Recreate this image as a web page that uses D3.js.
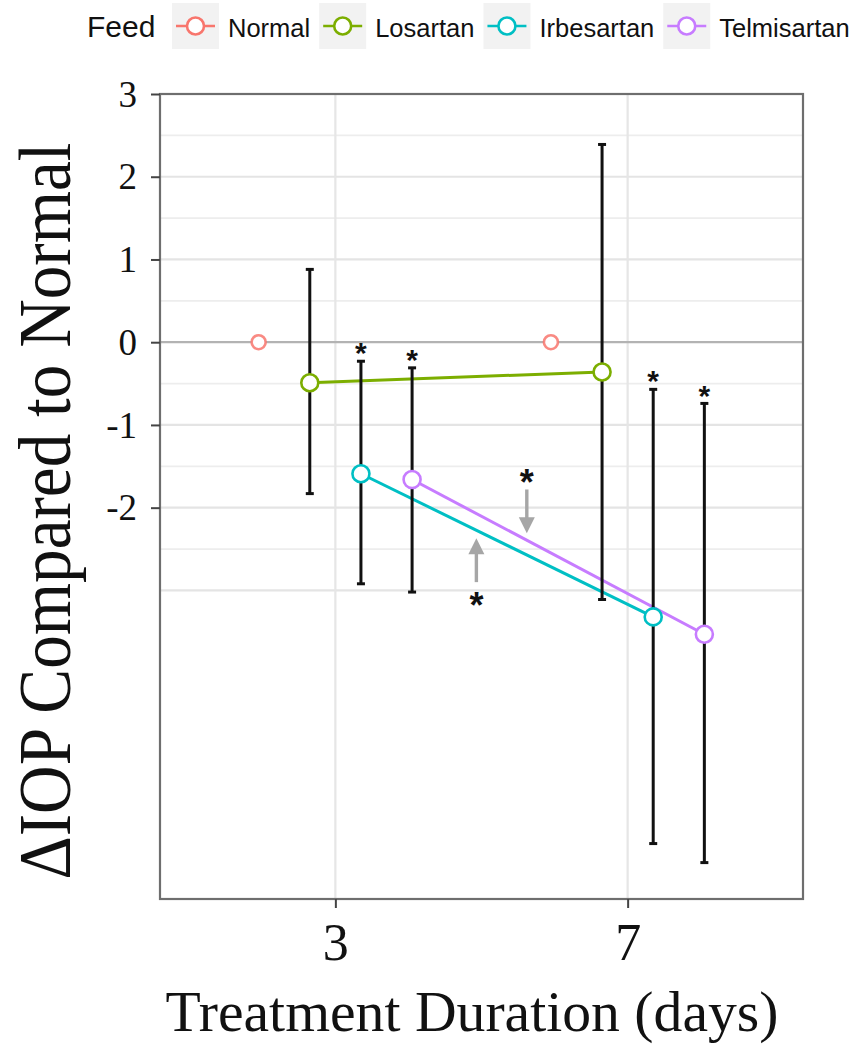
<!DOCTYPE html>
<html>
<head>
<meta charset="utf-8">
<script src="https://cdn.jsdelivr.net/npm/d3@7"></script>
<style>
  html, body { margin: 0; padding: 0; background: #ffffff; }
  svg { display: block; }
</style>
</head>
<body>
<svg id="chart" width="858" height="1045"></svg>
<script>
// ---------------- data ----------------
const days = [3, 7];
const feeds = ["Normal", "Losartan", "Irbesartan", "Telmisartan"];
const feedColors = ["#F8766D", "#7CAE00", "#00BFC4", "#C77CFF"];

const normalMean = [0, 0];
const losartanMean = [-0.49, -0.36];
const irbesartanMean = [-1.59, -3.32];
const telmisartanMean = [-1.66, -3.53];

const losartanLower = [-1.83, -3.11];
const losartanUpper = [0.88, 2.39];
const irbesartanLower = [-2.92, -6.06];
const irbesartanUpper = [-0.23, -0.57];
const telmisartanLower = [-3.02, -6.29];
const telmisartanUpper = [-0.31, -0.74];

const losartanSig = [false, false];
const irbesartanSig = [true, true];
const telmisartanSig = [true, true];

const yTicks = [3, 2, 1, 0, -1, -2];
const yTickLabels = ["3", "2", "1", "0", "-1", "-2"];
const yGrid = [3, 2.5, 2, 1.5, 1, 0.5, -0.5, -1, -1.5, -2, -2.5, -3];
const xTicks = [3, 7];
const xTickLabels = ["3", "7"];

// annotation arrows (day, tail value, tip value, asterisk value)
const arrowDay = [4.93, 5.62];
const arrowTail = [-2.90, -1.78];
const arrowTip = [-2.37, -2.31];
const arrowStar = [-3.09, -1.60];

const xTitle = "Treatment Duration (days)";
const yTitle = "\u0394IOP Compared to Normal";
const legendTitle = "Feed";

// ---------------- build series ----------------
const series = [
  { name: feeds[0], color: feedColors[0], mean: normalMean, lower: null, upper: null, sig: null, line: false },
  { name: feeds[1], color: feedColors[1], mean: losartanMean, lower: losartanLower, upper: losartanUpper, sig: losartanSig, line: true },
  { name: feeds[2], color: feedColors[2], mean: irbesartanMean, lower: irbesartanLower, upper: irbesartanUpper, sig: irbesartanSig, line: true },
  { name: feeds[3], color: feedColors[3], mean: telmisartanMean, lower: telmisartanLower, upper: telmisartanUpper, sig: telmisartanSig, line: true }
];
series.forEach((s, i) => {
  s.offset = (i - 1.5) * 0.7; // position dodge
  s.points = days.map((d, j) => ({
    day: d, x: d + s.offset, mean: s.mean[j],
    lower: s.lower ? s.lower[j] : null,
    upper: s.upper ? s.upper[j] : null,
    sig: s.sig ? s.sig[j] : false
  }));
});

// ---------------- layout ----------------
const svg = d3.select("#chart");
const panel = { left: 160, right: 803, top: 94, bottom: 899 };

const x = d3.scaleLinear().domain([0.6, 9.4]).range([panel.left, panel.right]);
const y = d3.scaleLinear().domain([3, -6.73]).range([panel.top, panel.bottom]);

const serif = "'Liberation Serif', 'Times New Roman', Times, serif";
const sans = "'Liberation Sans', Arial, Helvetica, sans-serif";

// panel background
svg.append("rect")
  .attr("x", panel.left).attr("y", panel.top)
  .attr("width", panel.right - panel.left).attr("height", panel.bottom - panel.top)
  .attr("fill", "#ffffff");

// horizontal gridlines
svg.append("g").selectAll("line").data(yGrid).join("line")
  .attr("x1", panel.left).attr("x2", panel.right)
  .attr("y1", d => y(d)).attr("y2", d => y(d))
  .attr("stroke", d => Number.isInteger(d) ? "#e4e4e4" : "#ededed")
  .attr("stroke-width", d => Number.isInteger(d) ? 2.2 : 1.8);

// vertical gridlines
svg.append("g").selectAll("line").data(xTicks).join("line")
  .attr("x1", d => x(d)).attr("x2", d => x(d))
  .attr("y1", panel.top).attr("y2", panel.bottom)
  .attr("stroke", "#e6e6e6").attr("stroke-width", 2.2);

// zero reference line
svg.append("line")
  .attr("x1", panel.left).attr("x2", panel.right)
  .attr("y1", y(0)).attr("y2", y(0))
  .attr("stroke", "#b3b3b3").attr("stroke-width", 2.2);

// series lines
const lineGen = d3.line().x(d => x(d.x)).y(d => y(d.mean));
svg.append("g").selectAll("path").data(series.filter(s => s.line)).join("path")
  .attr("d", s => lineGen(s.points))
  .attr("fill", "none")
  .attr("stroke", s => s.color)
  .attr("stroke-width", 3);

// error bars
const errData = series.filter(s => s.lower).flatMap(s => s.points);
const eg = svg.append("g");
eg.selectAll("line.bar").data(errData).join("line").attr("class", "bar")
  .attr("x1", d => x(d.x)).attr("x2", d => x(d.x))
  .attr("y1", d => y(d.upper)).attr("y2", d => y(d.lower))
  .attr("stroke", "#111").attr("stroke-width", 3);
eg.selectAll("line.capT").data(errData).join("line").attr("class", "capT")
  .attr("x1", d => x(d.x) - 4).attr("x2", d => x(d.x) + 4)
  .attr("y1", d => y(d.upper)).attr("y2", d => y(d.upper))
  .attr("stroke", "#111").attr("stroke-width", 3);
eg.selectAll("line.capB").data(errData).join("line").attr("class", "capB")
  .attr("x1", d => x(d.x) - 4).attr("x2", d => x(d.x) + 4)
  .attr("y1", d => y(d.lower)).attr("y2", d => y(d.lower))
  .attr("stroke", "#111").attr("stroke-width", 3);

// points
const pg = svg.append("g");
series.forEach((s, i) => {
  pg.selectAll(null).data(s.points).join("circle")
    .attr("cx", d => x(d.x)).attr("cy", d => y(d.mean))
    .attr("r", i === 0 ? 7 : 8.5)
    .attr("fill", "#ffffff")
    .attr("stroke", s.color)
    .attr("stroke-opacity", i === 0 ? 0.85 : 1)
    .attr("stroke-width", 2.6);
});

// significance asterisks above error bars
const sigData = errData.filter(d => d.sig);
svg.append("g").selectAll("text").data(sigData).join("text")
  .attr("x", d => x(d.x))
  .attr("y", d => y(d.upper) - 15 + 0.57 * 30)
  .attr("text-anchor", "middle")
  .attr("font-family", sans).attr("font-weight", "bold")
  .attr("font-size", 30).attr("fill", "#111")
  .text("*");

// annotation arrows
const arrows = arrowDay.map((d, i) => ({ day: d, tail: arrowTail[i], tip: arrowTip[i], star: arrowStar[i] }));
const ag = svg.append("g");
arrows.forEach(a => {
  const ax = x(a.day), ty = y(a.tail), py = y(a.tip);
  const dir = py < ty ? -1 : 1; // -1 = pointing up
  const headLen = 16, headW = 8;
  ag.append("line")
    .attr("x1", ax).attr("x2", ax)
    .attr("y1", ty).attr("y2", py - dir * headLen + dir * 1)
    .attr("stroke", "#a6a6a6").attr("stroke-width", 3.4);
  ag.append("path")
    .attr("d", `M${ax},${py} L${ax - headW},${py - dir * headLen} L${ax + headW},${py - dir * headLen} Z`)
    .attr("fill", "#a6a6a6");
  ag.append("text")
    .attr("x", ax).attr("y", y(a.star) + 0.57 * 36)
    .attr("text-anchor", "middle")
    .attr("font-family", sans).attr("font-weight", "bold")
    .attr("font-size", 36).attr("fill", "#111")
    .text("*");
});

// panel border
svg.append("rect")
  .attr("x", panel.left).attr("y", panel.top)
  .attr("width", panel.right - panel.left).attr("height", panel.bottom - panel.top)
  .attr("fill", "none").attr("stroke", "#6e6e6e").attr("stroke-width", 2.2);

// y axis ticks + labels
const yAxis = d3.axisLeft(y).tickValues(yTicks)
  .tickFormat((d, i) => yTickLabels[i]).tickSize(9).tickPadding(14);
const yg = svg.append("g").attr("transform", `translate(${panel.left},0)`).call(yAxis);
yg.select(".domain").remove();
yg.selectAll(".tick line").attr("stroke", "#444").attr("stroke-width", 2);
yg.selectAll(".tick text")
  .attr("font-family", serif).attr("font-size", 37).attr("fill", "#111")
  .attr("dy", "0.33em");

// x axis ticks + labels
const xAxis = d3.axisBottom(x).tickValues(xTicks)
  .tickFormat((d, i) => xTickLabels[i]).tickSize(9).tickPadding(0);
const xg = svg.append("g").attr("transform", `translate(0,${panel.bottom})`).call(xAxis);
xg.select(".domain").remove();
xg.selectAll(".tick line").attr("stroke", "#444").attr("stroke-width", 2);
xg.selectAll(".tick text")
  .attr("font-family", serif).attr("font-size", 52).attr("fill", "#111")
  .attr("dy", null).attr("y", 61);

// axis titles
svg.append("text")
  .attr("x", 472).attr("y", 1031)
  .attr("text-anchor", "middle")
  .attr("font-family", serif).attr("font-size", 57).attr("fill", "#111")
  .attr("textLength", 613).attr("lengthAdjust", "spacingAndGlyphs")
  .text(xTitle);

svg.append("text")
  .attr("transform", "translate(70,511) rotate(-90)")
  .attr("text-anchor", "middle")
  .attr("font-family", serif).attr("font-size", 73).attr("fill", "#111")
  .attr("textLength", 737).attr("lengthAdjust", "spacingAndGlyphs")
  .text(yTitle);

// legend
const lg = svg.append("g");
lg.append("text")
  .attr("x", 87).attr("y", 37)
  .attr("font-family", sans).attr("font-size", 30).attr("fill", "#111")
  .text(legendTitle);
let lx = 172;
series.forEach(s => {
  const bw = 47, by = 3, bh = 46, cy = by + bh / 2;
  lg.append("rect").attr("x", lx).attr("y", by).attr("width", bw).attr("height", bh).attr("fill", "#f2f2f2");
  lg.append("line").attr("x1", lx + 4).attr("x2", lx + bw - 4).attr("y1", cy).attr("y2", cy)
    .attr("stroke", s.color).attr("stroke-width", 2.6);
  lg.append("circle").attr("cx", lx + bw / 2).attr("cy", cy).attr("r", 8.5)
    .attr("fill", "#ffffff").attr("stroke", s.color).attr("stroke-width", 2.6);
  const t = lg.append("text")
    .attr("x", lx + bw + 9).attr("y", 37)
    .attr("font-family", sans).attr("font-size", 25.5).attr("fill", "#111")
    .text(s.name);
  lx = lx + bw + 9 + t.node().getComputedTextLength() + 9;
});
</script>
</body>
</html>
